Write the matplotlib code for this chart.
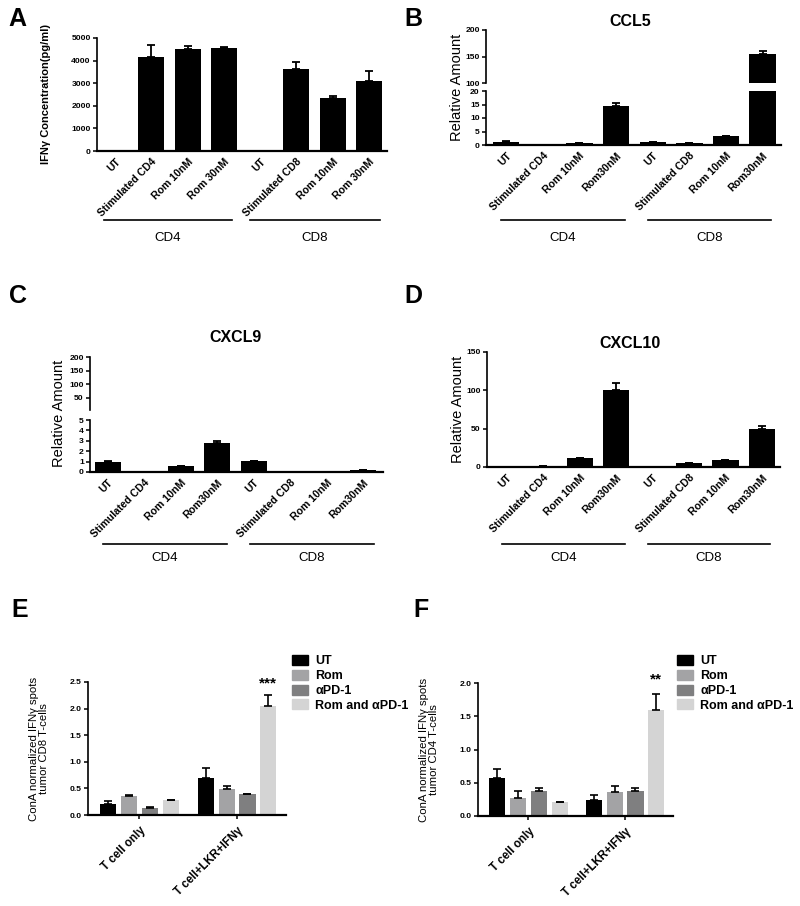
import numpy as np
import matplotlib
matplotlib.use('Agg')
import matplotlib.pyplot as plt
from matplotlib.transforms import blended_transform_factory
from matplotlib.patches import Patch

plt.rcParams['font.family'] = ['Liberation Sans', 'DejaVu Sans']

# ---- data ----
a_labels = ['UT', 'Stimulated CD4', 'Rom 10nM', 'Rom 30nM',
            'UT', 'Stimulated CD8', 'Rom 10nM', 'Rom 30nM']
a_vals = [0, 4150, 4530, 4560, 0, 3630, 2360, 3080]
a_err = [0, 520, 110, 60, 0, 320, 80, 450]

chem_labels = ['UT', 'Stimulated CD4', 'Rom 10nM', 'Rom30nM',
               'UT', 'Stimulated CD8', 'Rom 10nM', 'Rom30nM']
ccl5_vals = [1.2, 0, 0.8, 14.5, 1.0, 0.6, 3.3, 155]
ccl5_err = [0.1, 0, 0.1, 1.2, 0.1, 0.05, 0.2, 6]
cxcl9_vals = [1.0, 0, 0.6, 2.75, 1.05, 0, 0, 0.2]
cxcl9_err = [0.05, 0, 0.02, 0.2, 0.03, 0, 0, 0.02]
cxcl10_vals = [0.5, 0.8, 11.5, 101, 0.5, 5, 8.5, 49]
cxcl10_err = [0.1, 0.1, 0.5, 9, 0.1, 0.5, 0.5, 4]

groups = ['CD4', 'CD8']

treat = ['UT', 'Rom', 'αPD-1', 'Rom and αPD-1']
treat_colors = ['#000000', '#a3a3a5', '#7f7f80', '#d4d4d4']
ef_groups = ['T cell only', 'T cell+LKR+IFNγ']
e_vals = [[0.21, 0.69], [0.36, 0.49], [0.125, 0.39], [0.28, 2.05]]
e_err = [[0.06, 0.185], [0.01, 0.06], [0.03, 0.01], [0.01, 0.2]]
f_vals = [[0.57, 0.235], [0.275, 0.36], [0.375, 0.375], [0.205, 1.6]]
f_err = [[0.14, 0.08], [0.1, 0.09], [0.05, 0.045], [0.01, 0.23]]

W, H = 800, 906
fig = plt.figure(figsize=(W / 100, H / 100), dpi=100)


def px_axes(x0, y0, x1, y1):
    return fig.add_axes([x0 / W, 1 - y1 / H, (x1 - x0) / W, (y1 - y0) / H])


def style(ax, bottom=True):
    ax.spines['right'].set_visible(False)
    ax.spines['top'].set_visible(False)
    ax.spines['left'].set_linewidth(1.2)
    ax.spines['bottom'].set_linewidth(1.6)
    if not bottom:
        ax.spines['bottom'].set_visible(False)
        ax.tick_params(axis='x', bottom=False, labelbottom=False)
    ax.tick_params(axis='y', length=3, width=1.1, pad=1.5, labelsize=6.1)
    for t in ax.get_yticklabels():
        t.set_fontweight('bold')


def black_bars(ax, vals, errs, floor=None):
    x = np.arange(len(vals))
    ax.bar(x, vals, width=0.72, color='black', zorder=2)
    errs = np.array(errs, dtype=float)
    vals = np.array(vals, dtype=float)
    m = errs > 0
    if floor is not None:
        m &= vals > floor
    if m.any():
        ax.errorbar(x[m], vals[m], yerr=[np.zeros(m.sum()), errs[m]],
                    fmt='none', ecolor='black', elinewidth=1.3, capsize=3,
                    capthick=1.3, zorder=3)
    return x


def xlabels(ax, labels, x):
    ax.set_xticks(x)
    ax.set_xticklabels(labels, rotation=45, ha='right', rotation_mode='anchor',
                       fontsize=7.6, fontweight='bold')
    ax.tick_params(axis='x', length=0, pad=4)


def group_lines(ax, spans, ly, ty):
    tr = blended_transform_factory(ax.transData, fig.transFigure)
    for (s, e), g in zip(spans, groups):
        ax.plot([s, e], [1 - ly / H] * 2, color='black', lw=1.2,
                transform=tr, clip_on=False)
        ax.text((s + e) / 2, 1 - ty / H, g, transform=tr, ha='center',
                va='center', fontsize=9.5)


def panel_letter(x, y, s):
    fig.text(x / W, 1 - y / H, s, fontsize=18, fontweight='bold',
             ha='left', va='center')


# ---- A ----
ax = px_axes(97, 38, 387, 151)
x = black_bars(ax, a_vals, a_err)
ax.set_xlim(-0.5, 7.5)
ax.set_ylim(0, 5000)
ax.set_yticks([0, 1000, 2000, 3000, 4000, 5000])
style(ax)
xlabels(ax, a_labels, x)
ax.set_ylabel('IFNγ Concentration(pg/ml)', fontsize=8, fontweight='bold')
ax.yaxis.set_label_coords(-0.16, 0.5)
group_lines(ax, [(-0.32, 3.22), (3.71, 7.3)], 220, 238)
panel_letter(8, 19, 'A')

# ---- B (broken axis) ----
axu = px_axes(486, 30, 781, 83)
axl = px_axes(486, 91, 781, 145)
black_bars(axu, ccl5_vals, ccl5_err, floor=100)
x = black_bars(axl, ccl5_vals, ccl5_err)
for a in (axu, axl):
    a.set_xlim(-0.55, 7.5)
axu.set_ylim(100, 200)
axu.set_yticks([100, 150, 200])
axl.set_ylim(0, 20)
axl.set_yticks([0, 5, 10, 15, 20])
style(axu, bottom=False)
style(axl)
xlabels(axl, chem_labels, x)
group_lines(axl, [(-0.14, 3.24), (3.87, 7.23)], 220, 238)
fig.text(457 / W, 1 - 87 / H, 'Relative Amount', rotation=90, fontsize=10.5,
         ha='center', va='center')
fig.text(630 / W, 1 - 21 / H, 'CCL5', fontsize=11.5, fontweight='bold',
         ha='center', va='center')
panel_letter(404, 19, 'B')

# ---- C (broken axis) ----
axu = px_axes(90, 357, 383, 410)
axl = px_axes(90, 420, 383, 472)
black_bars(axu, cxcl9_vals, cxcl9_err, floor=5)
x = black_bars(axl, cxcl9_vals, cxcl9_err)
for a in (axu, axl):
    a.set_xlim(-0.49, 7.55)
axu.set_ylim(5, 200)
axu.set_yticks([50, 100, 150, 200])
axl.set_ylim(0, 5)
axl.set_yticks([0, 1, 2, 3, 4, 5])
style(axu, bottom=False)
style(axl)
xlabels(axl, chem_labels, x)
group_lines(axl, [(-0.14, 3.27), (3.9, 7.3)], 544, 558)
fig.text(59 / W, 1 - 413 / H, 'Relative Amount', rotation=90, fontsize=10.5,
         ha='center', va='center')
fig.text(235 / W, 1 - 337 / H, 'CXCL9', fontsize=11.5, fontweight='bold',
         ha='center', va='center')
panel_letter(9, 296, 'C')

# ---- D ----
ax = px_axes(487, 352, 780, 467)
x = black_bars(ax, cxcl10_vals, cxcl10_err)
ax.set_xlim(-0.55, 7.5)
ax.set_ylim(0, 150)
ax.set_yticks([0, 50, 100, 150])
style(ax)
xlabels(ax, chem_labels, x)
group_lines(ax, [(-0.14, 3.24), (3.87, 7.23)], 544, 558)
fig.text(458 / W, 1 - 409 / H, 'Relative Amount', rotation=90, fontsize=10.5,
         ha='center', va='center')
fig.text(630 / W, 1 - 343 / H, 'CXCL10', fontsize=11.5, fontweight='bold',
         ha='center', va='center')
panel_letter(404, 296, 'D')


# ---- E / F ----
def grouped(ax, vals, errs, step=0.214, width=0.165):
    g = np.arange(len(ef_groups))
    for i, (v, e, c, t) in enumerate(zip(vals, errs, treat_colors, treat)):
        xi = g + (i - 1.5) * step
        ax.bar(xi, v, width=width, color=c, label=t, zorder=2)
        ax.errorbar(xi, v, yerr=[np.zeros(len(e)), e], fmt='none',
                    ecolor='black', elinewidth=1.2, capsize=3, capthick=1.2,
                    zorder=3)
    ax.set_xticks(g)
    ax.set_xticklabels(ef_groups, rotation=45, ha='right',
                       rotation_mode='anchor', fontsize=8.3, fontweight='bold')
    ax.tick_params(axis='x', length=3, width=1.1, pad=4)
    return g + 1.5 * step


def ef_legend(ax, x0, y0):
    handles = [Patch(color=c) for c in treat_colors]
    ax.legend(handles, treat, loc='upper left',
              bbox_to_anchor=(x0 / W, 1 - y0 / H),
              bbox_transform=fig.transFigure, frameon=False, borderpad=0,
              borderaxespad=0, handlelength=1.3, handleheight=0.85,
              handletextpad=0.55, labelspacing=0.2,
              prop={'size': 9, 'weight': 'bold'})


ax = px_axes(88, 682, 286, 815)
xs = grouped(ax, e_vals, e_err)
ax.set_xlim(-0.527, 1.502)
ax.set_ylim(0, 2.5)
ax.set_yticks([0, 0.5, 1.0, 1.5, 2.0, 2.5])
ax.set_yticklabels(['0.0', '0.5', '1.0', '1.5', '2.0', '2.5'])
style(ax)
ax.text(xs[1], 2.47, '***', ha='center', va='center', fontsize=11,
        fontweight='bold', clip_on=False)
ef_legend(ax, 292, 655)
fig.text(39 / W, 1 - 749 / H, 'ConA normalized IFNγ spots\ntumor CD8 T-cells',
         rotation=90, fontsize=8.2, ha='center', va='center', linespacing=1.05)
panel_letter(11, 610, 'E')

ax = px_axes(478, 683, 673, 816)
xs = grouped(ax, f_vals, f_err, step=0.216, width=0.167)
ax.set_xlim(-0.523, 1.497)
ax.set_ylim(0, 2.0)
ax.set_yticks([0, 0.5, 1.0, 1.5, 2.0])
ax.set_yticklabels(['0.0', '0.5', '1.0', '1.5', '2.0'])
style(ax)
ax.text(xs[1], 2.05, '**', ha='center', va='center', fontsize=11,
        fontweight='bold', clip_on=False)
ef_legend(ax, 677, 655)
fig.text(429 / W, 1 - 750 / H, 'ConA normalized IFNγ spots\ntumor CD4 T-cells',
         rotation=90, fontsize=8.2, ha='center', va='center', linespacing=1.05)
panel_letter(413, 610, 'F')

fig.savefig('out.png', dpi=100)
